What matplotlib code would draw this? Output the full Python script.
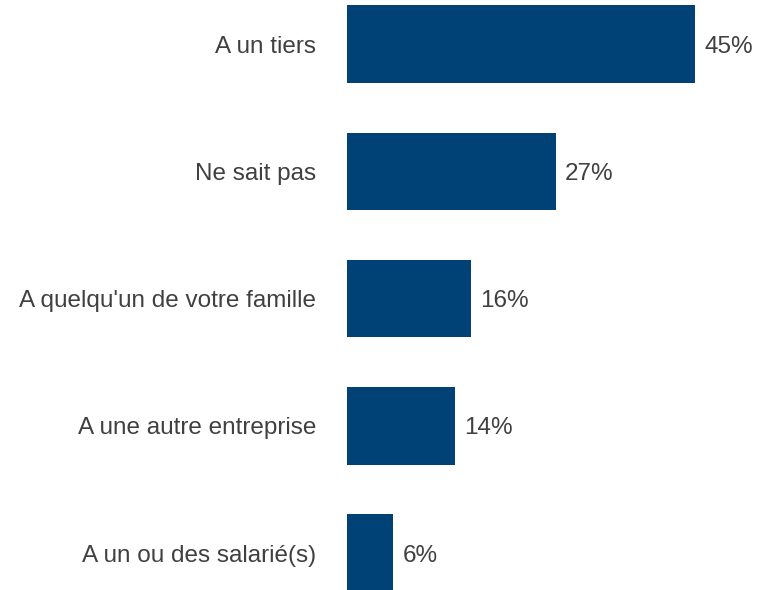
import matplotlib
matplotlib.use('Agg')
from matplotlib import pyplot as plt

categories = ['A un tiers', 'Ne sait pas', "A quelqu'un de votre famille",
              'A une autre entreprise', 'A un ou des salarié(s)']
values = [45, 27, 16, 14, 6]
labels = ['45%', '27%', '16%', '14%', '6%']

bar_colour = '#014276'
text_colour = '#404040'

plt.rcParams['font.family'] = ['Liberation Sans', 'DejaVu Sans']

fig = plt.figure(figsize=(7.6, 5.9), dpi=100)
ax = fig.add_axes([347/760., 0, 1 - 347/760., 1])

pos = range(len(categories))
ax.barh(pos, values, height=0.61, color=bar_colour)
for p, v, l in zip(pos, values, labels):
    ax.text(v + 1.2, p, l, va='center_baseline', ha='left', fontsize=17.5,
            color=text_colour)

ax.set_xlim(0, 53.4)
ax.set_ylim(4.289, -0.346)
ax.set_yticks(list(pos))
ax.set_yticklabels(categories, fontsize=17.5, color=text_colour)
ax.tick_params(axis='y', length=0, pad=22)
ax.set_xticks([])
for s in ax.spines.values():
    s.set_visible(False)

plt.savefig('out.png', dpi=100)
